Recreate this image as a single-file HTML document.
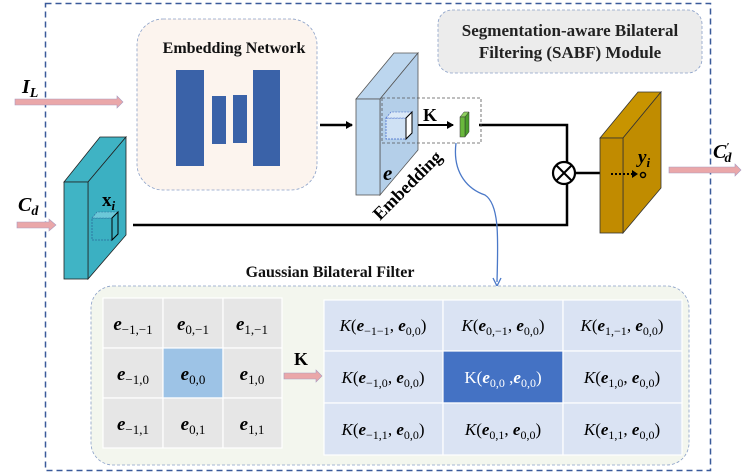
<!DOCTYPE html>
<html><head><style>
html,body{margin:0;padding:0;background:#fff;}
svg{display:block;font-family:"Liberation Serif",serif;}
</style></head><body>
<svg width="748" height="476" viewBox="0 0 748 476" xmlns="http://www.w3.org/2000/svg">
<defs>
<marker id="ab" markerWidth="8" markerHeight="8" refX="6" refY="4" orient="auto" markerUnits="userSpaceOnUse"><path d="M0,0 L7,4 L0,8 z" fill="#000"/></marker>
</defs>
<rect x="45.5" y="3.5" width="665" height="467" fill="none" stroke="#3a5a9a" stroke-width="1.5" stroke-dasharray="6,4"/>
<rect x="438" y="10" width="264" height="63" rx="14" fill="#ececec" stroke="#8aa0c8" stroke-width="0.8" stroke-dasharray="3,2"/>
<text x="570" y="36" font-size="17" font-weight="bold" text-anchor="middle" fill="#222">Segmentation-aware Bilateral</text>
<text x="570" y="58" font-size="17" font-weight="bold" text-anchor="middle" fill="#222">Filtering (SABF) Module</text>
<rect x="137" y="19" width="180" height="171" rx="26" fill="#fcf4ee" stroke="#8aa0c8" stroke-width="0.8" stroke-dasharray="3,2"/>
<text x="234" y="53" font-size="16" font-weight="bold" text-anchor="middle" fill="#111">Embedding Network</text>
<rect x="176" y="70" width="28" height="96" fill="#3a62a8"/>
<rect x="212" y="96" width="14" height="48" fill="#3a62a8"/>
<rect x="233" y="95" width="14" height="48" fill="#3a62a8"/>
<rect x="253" y="70" width="27" height="96" fill="#3a62a8"/>
<path d="M15,99 L117,99 L117,96 L123,102 L117,108 L117,105 L15,105 z" fill="#eaa7a9" stroke="#a99ac0" stroke-width="0.6"/>
<text x="22" y="93" font-size="20" font-weight="bold" font-style="italic">I<tspan font-size="14" dy="4">L</tspan></text>
<path d="M17,222 L49,222 L49,219 L56,225 L49,231 L49,228 L17,228 z" fill="#eaa7a9" stroke="#a99ac0" stroke-width="0.6"/>
<text x="18" y="211" font-size="20" font-weight="bold" font-style="italic">C<tspan font-size="14" dy="4">d</tspan></text>
<polygon points="64,182 100,137 126,137 88,182" fill="#3fb3c4" stroke="#222" stroke-width="0.8"/>
<polygon points="88,182 126,137 126,235 88,279" fill="#3bb0c2" stroke="#222" stroke-width="0.8"/>
<rect x="64" y="182" width="24" height="97" fill="#40b4c5" stroke="#222" stroke-width="0.8"/>
<text x="102" y="206" font-size="19" font-weight="bold">x<tspan font-size="13" dy="4" font-style="italic">i</tspan></text>
<rect x="92" y="218" width="20" height="22" fill="none" stroke="#2a6a9a" stroke-width="0.8" stroke-dasharray="2,1"/>
<polygon points="92,218 97,212 118,212 112,218" fill="#6cc8d8" stroke="#2a6a9a" stroke-width="0.6" stroke-dasharray="2,1"/>
<polygon points="112,218 118,212 118,234 112,240" fill="none" stroke="#000" stroke-width="1"/>
<polyline points="133,225 567,225 567,184" fill="none" stroke="#000" stroke-width="2.5"/>
<polyline points="479,125 567,125 567,162" fill="none" stroke="#000" stroke-width="2.5"/>
<line x1="320" y1="125" x2="352" y2="125" stroke="#000" stroke-width="2.5" marker-end="url(#ab)"/>
<polygon points="356,99 394,53 418,53 380,99" fill="#bcd6ee" stroke="#555" stroke-width="0.8"/>
<polygon points="380,99 418,53 418,150 380,195" fill="#b4cfe9" stroke="#555" stroke-width="0.8"/>
<rect x="356" y="99" width="24" height="96" fill="#bdd7ee" stroke="#555" stroke-width="0.8"/>
<text x="383" y="180" font-size="21" font-weight="bold" font-style="italic">e</text>
<rect x="382" y="98" width="99" height="45" fill="none" stroke="#555" stroke-width="0.8" stroke-dasharray="3,2"/>
<rect x="386" y="118" width="20" height="21" fill="#cfe1f4" stroke="#3a62c8" stroke-width="0.7" stroke-dasharray="2,1"/>
<polygon points="386,118 391,112 412,112 406,118" fill="#dbe9f7" stroke="#3a62c8" stroke-width="0.6" stroke-dasharray="2,1"/>
<polygon points="406,118 412,112 412,133 406,139" fill="#fff" stroke="#000" stroke-width="1"/>
<text x="423" y="121" font-size="18" font-weight="bold">K</text>
<line x1="418" y1="125" x2="453" y2="125" stroke="#000" stroke-width="2" marker-end="url(#ab)"/>
<polygon points="460,117 464,112 469,112 465,117" fill="#8fd060" stroke="#333" stroke-width="0.5"/>
<polygon points="465,117 469,112 469,132 465,137" fill="#4a9e2a" stroke="#333" stroke-width="0.5"/>
<rect x="460" y="117" width="5" height="20" fill="#6ab83c" stroke="#333" stroke-width="0.5"/>
<text x="0" y="0" font-size="18" font-weight="bold" transform="translate(380,221) rotate(-45)">Embedding</text>
<path d="M456,143 C452,175 470,190 485,195 C500,205 498,240 497,282" fill="none" stroke="#4a78c8" stroke-width="1.3"/>
<path d="M493,278 L497,286 L501,278" fill="none" stroke="#4a78c8" stroke-width="1.3"/>
<circle cx="564" cy="173" r="11" fill="#fff" stroke="#000" stroke-width="2.2"/>
<line x1="556.5" y1="165.5" x2="571.5" y2="180.5" stroke="#000" stroke-width="2"/>
<line x1="571.5" y1="165.5" x2="556.5" y2="180.5" stroke="#000" stroke-width="2"/>
<line x1="575" y1="173" x2="600" y2="173" stroke="#000" stroke-width="2.5"/>
<polygon points="600,138 638,92 661,92 623,138" fill="#c89400" stroke="#333" stroke-width="0.8"/>
<polygon points="623,138 661,92 661,188 623,233" fill="#c08c00" stroke="#333" stroke-width="0.8"/>
<rect x="600" y="138" width="23" height="95" fill="#c18b00" stroke="#333" stroke-width="0.8"/>
<line x1="611" y1="174" x2="634" y2="174" stroke="#000" stroke-width="2" stroke-dasharray="2,2"/>
<path d="M632,170 L638,174 L632,178 z" fill="#000"/>
<circle cx="643" cy="175" r="2.5" fill="none" stroke="#000" stroke-width="1.5"/>
<text x="638" y="163" font-size="19" font-weight="bold" font-style="italic">y<tspan font-size="13" dy="4">i</tspan></text>
<path d="M669,167 L735,167 L735,164 L741,170 L735,176 L735,173 L669,173 z" fill="#eaa7a9" stroke="#a99ac0" stroke-width="0.6"/>
<text x="713" y="158" font-size="20" font-weight="bold" font-style="italic">C<tspan font-size="11" dy="-8">′</tspan><tspan font-size="14" dx="-5" dy="12">d</tspan></text>
<text x="330" y="277" font-size="16" font-weight="bold" text-anchor="middle" fill="#111">Gaussian Bilateral Filter</text>
<rect x="91" y="286" width="598" height="179" rx="22" fill="#f3f6ee" stroke="#8aa0c8" stroke-width="0.8" stroke-dasharray="3,2"/>
<g fill="#e6e6e6" stroke="#fff" stroke-width="1.2">
<rect x="103" y="298" width="60" height="50"/><rect x="163" y="298" width="60" height="50"/><rect x="223" y="298" width="59" height="50"/>
<rect x="103" y="348" width="60" height="50"/><rect x="163" y="348" width="60" height="50" fill="#9dc3e6"/><rect x="223" y="348" width="59" height="50"/>
<rect x="103" y="398" width="60" height="50"/><rect x="163" y="398" width="60" height="50"/><rect x="223" y="398" width="59" height="50"/>
</g>
<g font-size="19" font-weight="bold" font-style="italic" text-anchor="middle">
<text x="133" y="330">e<tspan font-size="13" font-style="normal" font-weight="normal" dy="4">−1,−1</tspan></text>
<text x="193" y="330">e<tspan font-size="13" font-style="normal" font-weight="normal" dy="4">0,−1</tspan></text>
<text x="252" y="330">e<tspan font-size="13" font-style="normal" font-weight="normal" dy="4">1,−1</tspan></text>
<text x="133" y="380">e<tspan font-size="13" font-style="normal" font-weight="normal" dy="4">−1,0</tspan></text>
<text x="193" y="380">e<tspan font-size="13" font-style="normal" font-weight="normal" dy="4">0,0</tspan></text>
<text x="252" y="380">e<tspan font-size="13" font-style="normal" font-weight="normal" dy="4">1,0</tspan></text>
<text x="133" y="430">e<tspan font-size="13" font-style="normal" font-weight="normal" dy="4">−1,1</tspan></text>
<text x="193" y="430">e<tspan font-size="13" font-style="normal" font-weight="normal" dy="4">0,1</tspan></text>
<text x="252" y="430">e<tspan font-size="13" font-style="normal" font-weight="normal" dy="4">1,1</tspan></text>
</g>
<text x="294" y="365" font-size="18" font-weight="bold">K</text>
<path d="M284,373 L316,373 L316,370 L322,376 L316,382 L316,379 L284,379 z" fill="#eaa7a9" stroke="#a99ac0" stroke-width="0.6"/>
<g fill="#dae3f3" stroke="#fff" stroke-width="1.2">
<rect x="324" y="300" width="119" height="51"/><rect x="443" y="300" width="120" height="51"/><rect x="563" y="300" width="119" height="51"/>
<rect x="324" y="351" width="119" height="52"/><rect x="443" y="351" width="120" height="52" fill="#4472c4"/><rect x="563" y="351" width="119" height="52"/>
<rect x="324" y="403" width="119" height="52"/><rect x="443" y="403" width="120" height="52"/><rect x="563" y="403" width="119" height="52"/>
</g>
<g font-size="17" text-anchor="middle">
<text x="383" y="331"><tspan font-style="italic">K</tspan>(<tspan font-weight="bold" font-style="italic">e</tspan><tspan font-size="12" dy="4">−1−1</tspan><tspan dy="-4">, </tspan><tspan font-weight="bold" font-style="italic">e</tspan><tspan font-size="12" dy="4">0,0</tspan><tspan dy="-4">)</tspan></text>
<text x="503" y="331"><tspan font-style="italic">K</tspan>(<tspan font-weight="bold" font-style="italic">e</tspan><tspan font-size="12" dy="4">0,−1</tspan><tspan dy="-4">, </tspan><tspan font-weight="bold" font-style="italic">e</tspan><tspan font-size="12" dy="4">0,0</tspan><tspan dy="-4">)</tspan></text>
<text x="622" y="331"><tspan font-style="italic">K</tspan>(<tspan font-weight="bold" font-style="italic">e</tspan><tspan font-size="12" dy="4">1,−1</tspan><tspan dy="-4">, </tspan><tspan font-weight="bold" font-style="italic">e</tspan><tspan font-size="12" dy="4">0,0</tspan><tspan dy="-4">)</tspan></text>
<text x="383" y="383"><tspan font-style="italic">K</tspan>(<tspan font-weight="bold" font-style="italic">e</tspan><tspan font-size="12" dy="4">−1,0</tspan><tspan dy="-4">, </tspan><tspan font-weight="bold" font-style="italic">e</tspan><tspan font-size="12" dy="4">0,0</tspan><tspan dy="-4">)</tspan></text>
<text x="503" y="383" fill="#fff">K(<tspan font-weight="bold" font-style="italic">e</tspan><tspan font-size="12" dy="4">0,0</tspan><tspan dy="-4"> ,</tspan><tspan font-weight="bold" font-style="italic">e</tspan><tspan font-size="12" dy="4">0,0</tspan><tspan dy="-4">)</tspan></text>
<text x="622" y="383"><tspan font-style="italic">K</tspan>(<tspan font-weight="bold" font-style="italic">e</tspan><tspan font-size="12" dy="4">1,0</tspan><tspan dy="-4">, </tspan><tspan font-weight="bold" font-style="italic">e</tspan><tspan font-size="12" dy="4">0,0</tspan><tspan dy="-4">)</tspan></text>
<text x="383" y="435"><tspan font-style="italic">K</tspan>(<tspan font-weight="bold" font-style="italic">e</tspan><tspan font-size="12" dy="4">−1,1</tspan><tspan dy="-4">, </tspan><tspan font-weight="bold" font-style="italic">e</tspan><tspan font-size="12" dy="4">0,0</tspan><tspan dy="-4">)</tspan></text>
<text x="503" y="435"><tspan font-style="italic">K</tspan>(<tspan font-weight="bold" font-style="italic">e</tspan><tspan font-size="12" dy="4">0,1</tspan><tspan dy="-4">, </tspan><tspan font-weight="bold" font-style="italic">e</tspan><tspan font-size="12" dy="4">0,0</tspan><tspan dy="-4">)</tspan></text>
<text x="622" y="435"><tspan font-style="italic">K</tspan>(<tspan font-weight="bold" font-style="italic">e</tspan><tspan font-size="12" dy="4">1,1</tspan><tspan dy="-4">, </tspan><tspan font-weight="bold" font-style="italic">e</tspan><tspan font-size="12" dy="4">0,0</tspan><tspan dy="-4">)</tspan></text>
</g>
</svg>
</body></html>
